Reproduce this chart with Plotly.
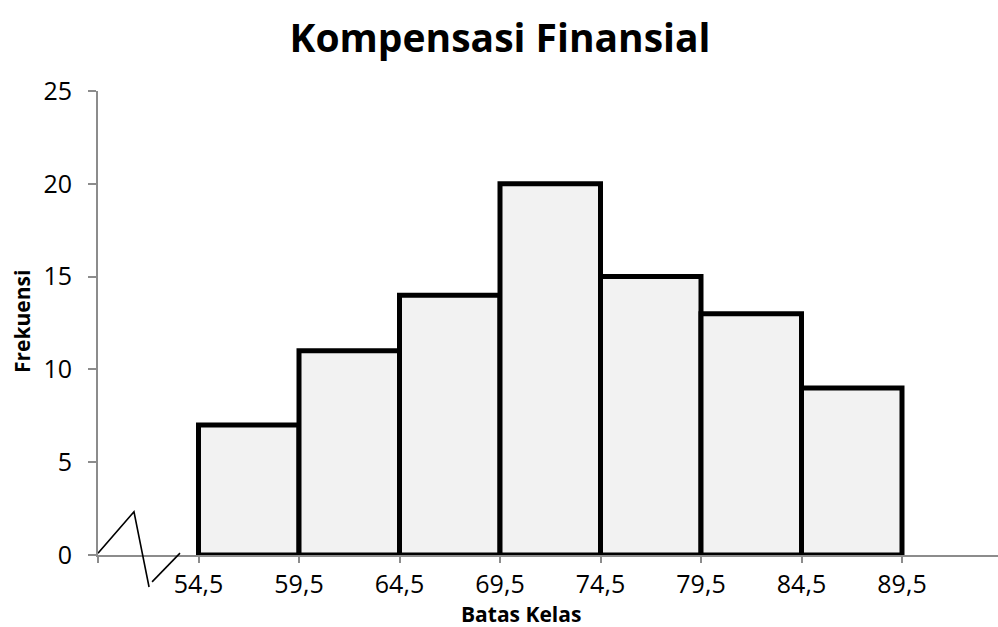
import plotly.graph_objects as go

# Class boundaries (lower edge of each class) and frequencies
batas_bawah = [54.5, 59.5, 64.5, 69.5, 74.5, 79.5, 84.5]
frekuensi = [7, 11, 14, 20, 15, 13, 9]
lebar_kelas = 5

# Axis ticks
x_ticks = [49.5, 54.5, 59.5, 64.5, 69.5, 74.5, 79.5, 84.5, 89.5]
x_ticktext = [""] + [f"{v:.1f}".replace(".", ",") for v in x_ticks[1:]]
y_ticks = [0, 5, 10, 15, 20, 25]

titik_tengah = [b + lebar_kelas / 2 for b in batas_bawah]

FONT = "Open Sans"
GREY = "#8c8c8c"

fig = go.Figure()
fig.add_trace(go.Bar(
    x=titik_tengah,
    y=frekuensi,
    width=[lebar_kelas] * len(frekuensi),
    marker=dict(color="#f2f2f2", line=dict(color="black", width=5)),
    cliponaxis=False,
    hoverinfo="x+y",
))

# Axis-break zigzag at the left end of the horizontal axis
fig.add_shape(type="path", xref="x", yref="paper",
              path="M 49.5 0.004 L 51.29 0.093 L 52.04 -0.069",
              line=dict(color="black", width=1.6))
fig.add_shape(type="line", xref="x", yref="paper",
              x0=52.19, y0=-0.058, x1=53.58, y1=0.004,
              line=dict(color="black", width=1.6))

fig.update_layout(
    width=998, height=627,
    margin=dict(l=98, r=0, t=91, b=72),
    paper_bgcolor="white", plot_bgcolor="white",
    showlegend=False,
    title=dict(text="<b>Kompensasi Finansial</b>",
               font=dict(family=FONT, size=39, color="black"),
               x=500 / 998, xanchor="center", xref="container",
               y=1 - 38 / 627, yanchor="middle", yref="container"),
    xaxis=dict(range=[49.5, 49.5 + 900 / 100.5 * 5],
               tickmode="array", tickvals=x_ticks, ticktext=x_ticktext,
               ticks="outside", ticklen=6, tickcolor=GREY, tickwidth=1.5,
               showline=True, linecolor=GREY, linewidth=2,
               showgrid=False, zeroline=False,
               tickfont=dict(family=FONT, size=25, color="black")),
    yaxis=dict(range=[0, 25], tickmode="array", tickvals=y_ticks,
               ticks="outside", ticklen=8, tickcolor=GREY, tickwidth=1.5,
               showline=True, linecolor=GREY, linewidth=2,
               showgrid=False, zeroline=False, ticklabelstandoff=11,
               tickfont=dict(family=FONT, size=25, color="black")),
    annotations=[
        dict(text="<b>Batas Kelas</b>", xref="paper", yref="paper",
             x=(521 - 98) / 900, y=(555 - 614) / 464,
             xanchor="center", yanchor="middle", showarrow=False,
             font=dict(family=FONT, size=21, color="black")),
        dict(text="<b>Frekuensi</b>", xref="paper", yref="paper",
             x=(22 - 98) / 900, y=(555 - 322) / 464, textangle=-90,
             xanchor="center", yanchor="middle", showarrow=False,
             font=dict(family=FONT, size=21, color="black")),
    ],
)

fig.write_html("out.html")
